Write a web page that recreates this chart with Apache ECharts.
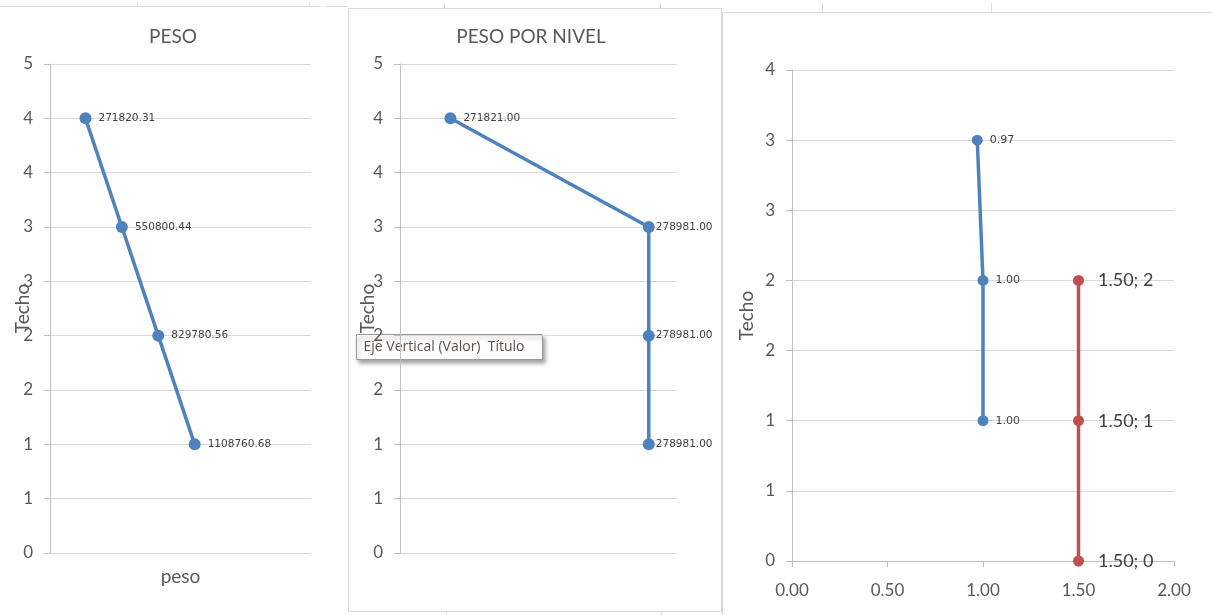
<!DOCTYPE html>
<html>
<head>
<meta charset="utf-8">
<script src="https://cdn.jsdelivr.net/npm/echarts@6/dist/echarts.min.js"></script>
<style>
html,body{margin:0;padding:0;background:#fff;}
#main{width:1212px;height:615px;}
</style>
</head>
<body>
<div id="main"></div>
<script>
// ---- data ----
const pesoX = [271820.31, 550800.44, 829780.56, 1108760.68];
const pesoY = [4, 3, 2, 1];
const nivelX = [271821.00, 278981.00, 278981.00, 278981.00];
const nivelY = [4, 3, 2, 1];
const ratioX = [0.97, 1.00, 1.00];
const ratioY = [3, 2, 1];
const limitX = [1.50, 1.50, 1.50];
const limitY = [2, 1, 0];
const yTicks45 = ['0', '1', '1', '2', '2', '3', '3', '4', '4', '5'];
const yTicks35 = ['0', '1', '1', '2', '2', '3', '3', '4'];
const xTicks3 = ['0.00', '0.50', '1.00', '1.50', '2.00'];
const titles = ['PESO', 'PESO POR NIVEL'];

// ---- styles ----
const BLUE = '#4F81BD';
const RED = '#C0504D';
const AXIS = '#BFBFBF';
const GRID = '#D9D9D9';
const TXT = '#595959';
const FONT = 'Lato, "Open Sans", sans-serif';

function yAxis(gridIndex, max, labels, nameGap) {
  return {
    type: 'value', gridIndex: gridIndex, min: 0, max: max, interval: 0.5,
    name: 'Techo', nameLocation: 'middle', nameRotate: 90, nameGap: nameGap,
    nameMoveOverlap: false,
    nameTextStyle: { color: TXT, fontSize: 19, fontFamily: FONT },
    axisLine: { show: true, lineStyle: { color: AXIS, width: 1 } },
    axisTick: { show: true, length: 6, lineStyle: { color: AXIS } },
    axisLabel: { color: TXT, fontSize: 17, fontFamily: FONT, margin: 17,
      formatter: function (v, i) { return labels[i]; } },
    splitLine: { show: true, lineStyle: { color: GRID, width: 1 } }
  };
}
function hiddenX(gridIndex, min, max) {
  return {
    type: 'value', gridIndex: gridIndex, min: min, max: max,
    axisLine: { show: false }, axisTick: { show: false },
    axisLabel: { show: false }, splitLine: { show: false }
  };
}
function pairs(xs, ys) { return xs.map(function (x, i) { return [x, ys[i]]; }); }

const smallLabel = { show: true, position: 'right', distance: 7, color: '#404040',
  fontSize: 10.5, fontFamily: '"DejaVu Sans", sans-serif',
  formatter: function (p) { return p.value[0].toFixed(2); } };

const titleStyle = { color: TXT, fontSize: 19, fontWeight: 'normal', fontFamily: FONT };

const option = {
  animation: false,
  backgroundColor: '#fff',
  title: [
    { text: titles[0], left: 173, top: 27, padding: 0, textAlign: 'center', textStyle: titleStyle },
    { text: titles[1], left: 531, top: 27, padding: 0, textAlign: 'center', textStyle: titleStyle }
  ],
  grid: [
    { left: 50, top: 64, width: 261, height: 489 },
    { left: 400, top: 64, width: 277, height: 489 },
    { left: 792, top: 70, width: 382, height: 491 }
  ],
  xAxis: [
    Object.assign(hiddenX(0, 0, 2000000), {
      name: 'peso', nameLocation: 'middle', nameGap: 14,
      nameTextStyle: { color: TXT, fontSize: 19, fontFamily: FONT }
    }),
    hiddenX(1, 270000, 280000),
    {
      type: 'value', gridIndex: 2, min: 0, max: 2, interval: 0.5,
      axisLine: { show: true, lineStyle: { color: AXIS } },
      axisTick: { show: true, length: 6, lineStyle: { color: AXIS } },
      axisLabel: { color: TXT, fontSize: 17, fontFamily: FONT, margin: 21,
        formatter: function (v, i) { return xTicks3[i]; } },
      splitLine: { show: false }
    }
  ],
  yAxis: [
    yAxis(0, 4.5, yTicks45, 18),
    yAxis(1, 4.5, yTicks45, 23),
    yAxis(2, 3.5, yTicks35, 36)
  ],
  series: [
    {
      type: 'line', xAxisIndex: 0, yAxisIndex: 0, data: pairs(pesoX, pesoY),
      symbol: 'circle', symbolSize: 12, color: BLUE,
      lineStyle: { width: 3.5, color: BLUE }, itemStyle: { color: BLUE },
      label: smallLabel
    },
    {
      type: 'line', xAxisIndex: 1, yAxisIndex: 1,
      data: pairs(nivelX, nivelY).map(function (d, i) {
        return i === 0 ? { value: d } : { value: d, label: { distance: 1 } };
      }),
      symbol: 'circle', symbolSize: 12, color: BLUE,
      lineStyle: { width: 3.5, color: BLUE }, itemStyle: { color: BLUE },
      label: smallLabel
    },
    {
      type: 'line', xAxisIndex: 2, yAxisIndex: 2, data: pairs(ratioX, ratioY),
      symbol: 'circle', symbolSize: 11, color: BLUE,
      lineStyle: { width: 3.5, color: BLUE }, itemStyle: { color: BLUE },
      label: Object.assign({}, smallLabel, { fontSize: 11 })
    },
    {
      type: 'line', xAxisIndex: 2, yAxisIndex: 2, data: pairs(limitX, limitY),
      symbol: 'circle', symbolSize: 11, color: RED,
      lineStyle: { width: 3.5, color: RED }, itemStyle: { color: RED },
      label: { show: true, position: 'right', distance: 14, color: '#404040',
        fontSize: 18, fontFamily: FONT,
        formatter: function (p) { return p.value[0].toFixed(2) + '; ' + p.value[1]; } }
    }
  ],
  graphic: [
    // sheet lines / panel frames
    { type: 'line', silent: true, z: -1, shape: { x1: 0, y1: 6.5, x2: 321, y2: 6.5 }, style: { stroke: '#DDDDDD', lineWidth: 1 } },
    { type: 'line', silent: true, z: -1, shape: { x1: 325, y1: 6.5, x2: 348, y2: 6.5 }, style: { stroke: '#DDDDDD', lineWidth: 1 } },
    { type: 'line', silent: true, z: -1, shape: { x1: 137.5, y1: 3, x2: 137.5, y2: 6.5 }, style: { stroke: '#DDDDDD', lineWidth: 1 } },
    { type: 'line', silent: true, z: -1, shape: { x1: 309.5, y1: 3, x2: 309.5, y2: 6.5 }, style: { stroke: '#DDDDDD', lineWidth: 1 } },
    { type: 'line', silent: true, z: -1, shape: { x1: 444.5, y1: 3, x2: 444.5, y2: 8.5 }, style: { stroke: '#DDDDDD', lineWidth: 1 } },
    { type: 'line', silent: true, z: -1, shape: { x1: 660.5, y1: 3, x2: 660.5, y2: 8.5 }, style: { stroke: '#DDDDDD', lineWidth: 1 } },
    { type: 'line', silent: true, z: -1, shape: { x1: 822.5, y1: 3, x2: 822.5, y2: 12.5 }, style: { stroke: '#DDDDDD', lineWidth: 1 } },
    { type: 'line', silent: true, z: -1, shape: { x1: 991.5, y1: 3, x2: 991.5, y2: 12.5 }, style: { stroke: '#DDDDDD', lineWidth: 1 } },
    { type: 'line', silent: true, z: -1, shape: { x1: 446.5, y1: 611.5, x2: 446.5, y2: 615 }, style: { stroke: '#DDDDDD', lineWidth: 1 } },
    { type: 'line', silent: true, z: -1, shape: { x1: 661.5, y1: 611.5, x2: 661.5, y2: 615 }, style: { stroke: '#DDDDDD', lineWidth: 1 } },
    { type: 'rect', silent: true, z: -1, shape: { x: 348.5, y: 8.5, width: 373, height: 603 }, style: { fill: null, stroke: '#D9D9D9', lineWidth: 1 } },
    { type: 'rect', silent: true, z: -1, shape: { x: 722.5, y: 12.5, width: 500, height: 610 }, style: { fill: null, stroke: '#D9D9D9', lineWidth: 1 } },
    // Excel hover tip over the second chart's axis title
    {
      type: 'group', z: 100, left: 356, top: 334,
      children: [
        { type: 'rect', shape: { x: 0, y: 0, width: 186, height: 25 },
          style: { fill: '#FFFFFF', stroke: '#9A9A9A', lineWidth: 1,
            shadowBlur: 4, shadowOffsetX: 2, shadowOffsetY: 3, shadowColor: 'rgba(0,0,0,0.35)' } },
        { type: 'text', style: { x: 7, y: 13, text: 'Eje Vertical (Valor)  Título',
          fill: '#5E5048', fontSize: 14, fontFamily: '"Open Sans", sans-serif', verticalAlign: 'middle' } }
      ]
    }
  ]
};

const chart = echarts.init(document.getElementById('main'), null, { renderer: 'canvas' });
chart.setOption(option);
</script>
</body>
</html>
